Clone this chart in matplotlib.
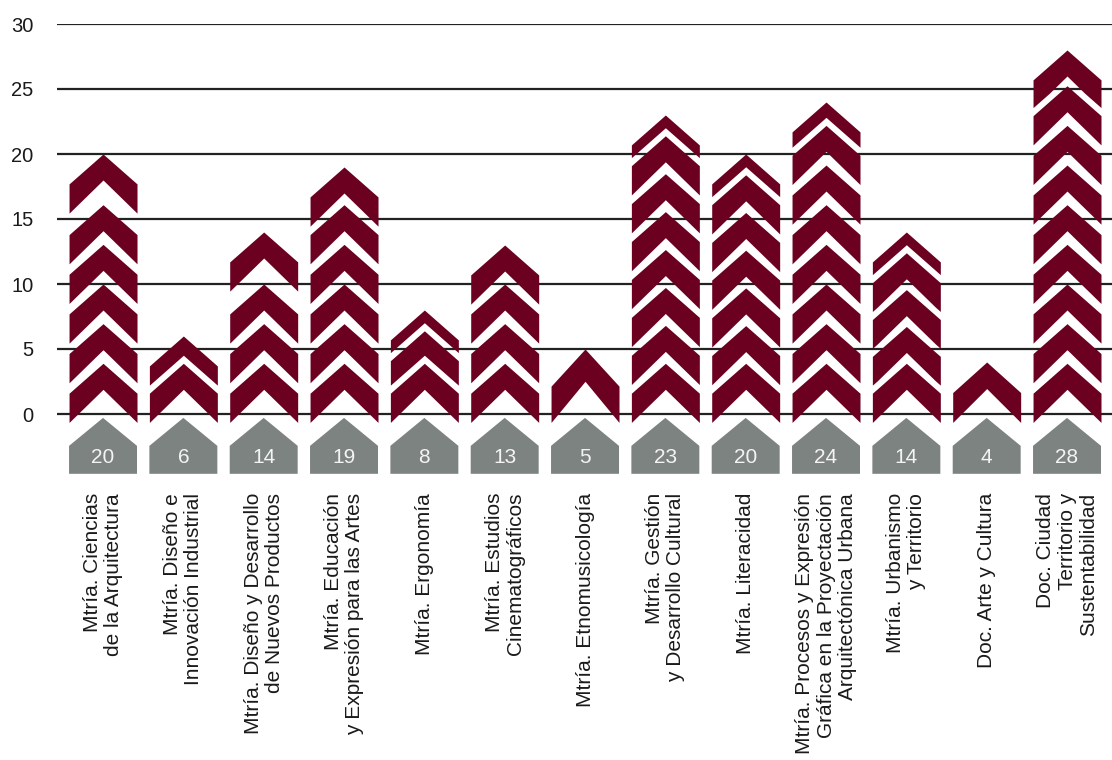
import numpy as np
import matplotlib
matplotlib.use('Agg')
import matplotlib.pyplot as plt
from matplotlib.patches import Polygon

plt.rcParams['font.family'] = ['Liberation Sans', 'DejaVu Sans']

# Data
programs = [
    'Mtría. Ciencias\nde la Arquitectura',
    'Mtría. Diseño e\nInnovación Industrial',
    'Mtría. Diseño y Desarrollo\nde Nuevos Productos',
    'Mtría. Educación\ny Expresión para las Artes',
    'Mtría. Ergonomía',
    'Mtría. Estudios\nCinematográficos',
    'Mtría. Etnomusicología',
    'Mtría. Gestión\ny Desarrollo Cultural',
    'Mtría. Literacidad',
    'Mtría. Procesos y Expresión\nGráfica en la Proyectación\nArquitectónica Urbana',
    'Mtría. Urbanismo\ny Territorio',
    'Doc. Arte y Cultura',
    'Doc. Ciudad\nTerritorio y\nSustentabilidad',
]
students = [20, 6, 14, 19, 8, 13, 5, 23, 20, 24, 14, 4, 28]
# number of chevron icons stacked in each column
chevrons = [6, 2, 4, 6, 3, 4, 1, 8, 7, 8, 5, 1, 9]
yticks = [0, 5, 10, 15, 20, 25, 30]

# Style
RED = '#6b0021'
GRAY = '#7d8381'
GRID = '#222222'

# Chevron geometry (data units)
HW = 0.423      # half width
A = 2.3         # tip to outer corner
N = 2.0         # tip to inner notch
H = 4.55        # tip to bottom corner
BASE = -0.65    # bottom of stack
STEP = 3.05     # spacing of the lower chevrons
MIN_TOP = 1.6   # smallest gap below the top chevron
GAP = 0.62      # white band above each chevron

fig = plt.figure(figsize=(11.12, 7.6), dpi=100)
ax = fig.add_axes([57 / 1112, (760 - 479) / 760, 1 - 57 / 1112, (479 - 24) / 760])
ax.set_xlim(-0.573, 12.56)
ax.set_ylim(-5, 30)

for y in yticks:
    ax.axhline(y, color=GRID, lw=1.6, zorder=1)

u = np.linspace(-HW, HW, 401)
au = np.abs(u) / HW

for i, (val, n) in enumerate(zip(students, chevrons)):
    cx = i
    first = BASE + H
    if n == 1:
        tips = [val]
        scales = [(val - BASE) / H]
    elif n == 2:
        tips = [first, val]
        scales = [1.0, 1.0]
    else:
        p = min(first + (n - 2) * STEP, val - MIN_TOP)
        tips = list(np.linspace(first, p, n - 1)) + [val]
        scales = [1.0] * n
    for j in range(n):
        t, k = tips[j], scales[j]
        top = t - A * k * au
        low = t - N * k - (H - N) * k * au
        if j > 0:
            t2, k2 = tips[j - 1], scales[j - 1]
            halo = t2 + GAP - A * k2 * au
            low = np.maximum(low, halo)
        ax.fill_between(cx + u, low, top, where=top > low, interpolate=True,
                        color=RED, lw=0, zorder=2)

    # gray label house
    house = Polygon([[cx - HW, -4.6], [cx - HW, -2.45], [cx, -0.3],
                     [cx + HW, -2.45], [cx + HW, -4.6]],
                    closed=True, facecolor=GRAY, edgecolor='none', zorder=2)
    ax.add_patch(house)
    ax.text(cx, -3.35, str(val), ha='center', va='center', fontsize=15,
            color='#f4f4f4', zorder=3)

for s in ax.spines.values():
    s.set_visible(False)

ax.set_yticks(yticks)
ax.set_yticklabels([str(y) for y in yticks], fontsize=14.5, color='#1a1a1a')
ax.tick_params(axis='y', length=0, pad=17)

ax.set_xticks(range(len(programs)))
ax.set_xticklabels(programs, rotation=90, fontsize=15, color='#1a1a1a',
                   linespacing=1.15)
for lab in ax.get_xticklabels():
    lab.set_multialignment('right')
ax.tick_params(axis='x', length=0, pad=10)

fig.savefig('out.png', dpi=100)
